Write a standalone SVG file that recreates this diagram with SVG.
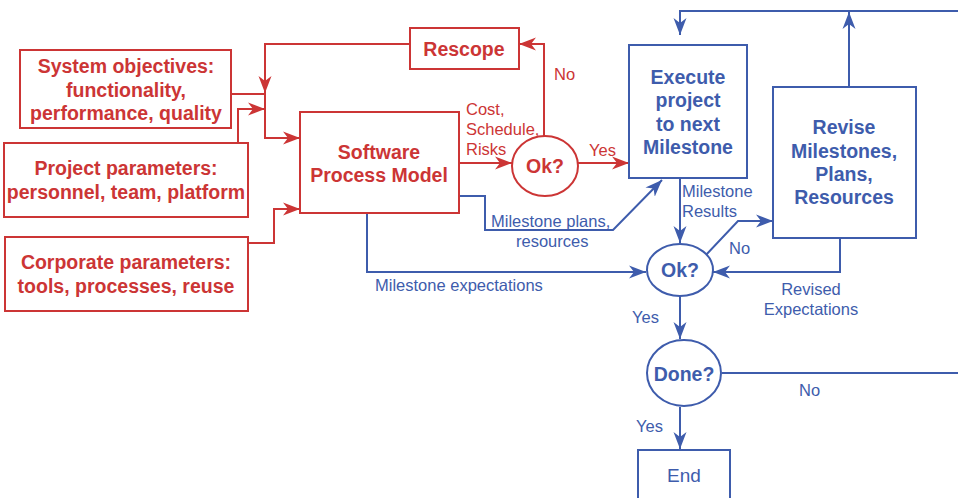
<svg xmlns="http://www.w3.org/2000/svg" width="958" height="498" viewBox="0 0 958 498">
  <style>
    .r { stroke: #cc3535; }
    .b { stroke: #3e5cac; }
    .box { fill: #ffffff; stroke-width: 2; }
    .ln { fill: none; stroke-width: 2; }
    .t { font-family: "Liberation Sans", Arial, sans-serif; text-anchor: middle; }
    .tb { font-family: "Liberation Sans", Arial, sans-serif; font-weight: bold; font-size: 19.5px; text-anchor: middle; }
    .lbl { font-family: "Liberation Sans", Arial, sans-serif; font-size: 16.5px; }
    .fr { fill: #cc3535; }
    .fb { fill: #3e5cac; }
  </style>
  <defs>
    <marker id="ar" markerUnits="userSpaceOnUse" markerWidth="18" markerHeight="14" refX="17" refY="7" orient="auto">
      <path d="M0,0.5 L17,7 L0,13.5 L5,7 Z" fill="#cc3535"/>
    </marker>
    <marker id="ab" markerUnits="userSpaceOnUse" markerWidth="18" markerHeight="14" refX="17" refY="7" orient="auto">
      <path d="M0,0.5 L17,7 L0,13.5 L5,7 Z" fill="#3e5cac"/>
    </marker>
  </defs>

  <!-- connectors -->
  <g id="connectors">
    <!-- red: inputs and scoping loop -->
    <polyline class="ln r" points="410,44 265,44 265,93" marker-end="url(#ar)"/>
    <polyline class="ln r" points="265,93 265,138 300,138" marker-end="url(#ar)"/>
    <polyline class="ln r" points="231,94 265,94"/>
    <polyline class="ln r" points="238,142 238,109 265,109" marker-end="url(#ar)"/>
    <polyline class="ln r" points="248,243 274,243 274,209 300,209" marker-end="url(#ar)"/>
    <polyline class="ln r" points="459,163 512,163" marker-end="url(#ar)"/>
    <polyline class="ln r" points="544,136 544,44 519,44" marker-end="url(#ar)"/>
    <polyline class="ln r" points="578,163 629,163" marker-end="url(#ar)"/>

    <!-- blue: execution loop -->
    <polyline class="ln b" points="459,196 485,196 485,230 613,230 662,180" marker-end="url(#ab)"/>
    <polyline class="ln b" points="367,213 367,272 646,272" marker-end="url(#ab)"/>
    <polyline class="ln b" points="680,178 680,243" marker-end="url(#ab)"/>
    <polyline class="ln b" points="705,256 738,221 773,221" marker-end="url(#ab)"/>
    <polyline class="ln b" points="840,238 840,272 713,272" marker-end="url(#ab)"/>
    <polyline class="ln b" points="849,87 849,12" marker-end="url(#ab)"/>
    <polyline class="ln b" points="958,11 680,11 680,35" marker-end="url(#ab)"/>
    <polyline class="ln b" points="680,296 680,339" marker-end="url(#ab)"/>
    <polyline class="ln b" points="722,373 958,373"/>
    <polyline class="ln b" points="680,407 680,449" marker-end="url(#ab)"/>

    <!-- connector labels -->
    <text class="lbl fr" x="466" y="115">Cost,</text>
    <text class="lbl fr" x="466" y="135">Schedule,</text>
    <text class="lbl fr" x="466" y="155">Risks</text>
    <text class="lbl fr" x="554" y="80">No</text>
    <text class="lbl fr" x="589" y="156">Yes</text>
    <text class="lbl fb" x="491" y="227">Milestone plans,</text>
    <text class="lbl fb" x="516" y="247">resources</text>
    <text class="lbl fb" x="375" y="291">Milestone expectations</text>
    <text class="lbl fb" x="682" y="197">Milestone</text>
    <text class="lbl fb" x="682" y="217">Results</text>
    <text class="lbl fb" x="729" y="254">No</text>
    <text class="lbl fb" x="811" y="295" text-anchor="middle">Revised</text>
    <text class="lbl fb" x="811" y="315" text-anchor="middle">Expectations</text>
    <text class="lbl fb" x="632" y="323">Yes</text>
    <text class="lbl fb" x="799" y="396">No</text>
    <text class="lbl fb" x="636" y="432">Yes</text>
  </g>

  <!-- nodes -->
  <g id="system-objectives">
    <rect class="box r" x="20" y="50" width="211" height="78"/>
    <text class="tb fr" x="126" y="73">System objectives:</text>
    <text class="tb fr" x="126" y="97">functionality,</text>
    <text class="tb fr" x="126" y="120">performance, quality</text>
  </g>
  <g id="project-parameters">
    <rect class="box r" x="4" y="143" width="244" height="74"/>
    <text class="tb fr" x="126" y="175">Project parameters:</text>
    <text class="tb fr" x="126" y="199">personnel, team, platform</text>
  </g>
  <g id="corporate-parameters">
    <rect class="box r" x="5" y="237" width="243" height="74"/>
    <text class="tb fr" x="126" y="269">Corporate parameters:</text>
    <text class="tb fr" x="126" y="293">tools, processes, reuse</text>
  </g>
  <g id="software-process-model">
    <rect class="box r" x="300" y="112" width="159" height="101"/>
    <text class="tb fr" x="379" y="159">Software</text>
    <text class="tb fr" x="379" y="182">Process Model</text>
  </g>
  <g id="rescope">
    <rect class="box r" x="410" y="28" width="109" height="41"/>
    <text class="tb fr" x="464" y="56">Rescope</text>
  </g>
  <g id="ok-scope">
    <ellipse class="box r" cx="545" cy="166" rx="33" ry="30"/>
    <text class="tb fr" x="545" y="173">Ok?</text>
  </g>
  <g id="execute">
    <rect class="box b" x="629" y="45" width="118" height="133"/>
    <text class="tb fb" x="688" y="84">Execute</text>
    <text class="tb fb" x="688" y="107">project</text>
    <text class="tb fb" x="688" y="131">to next</text>
    <text class="tb fb" x="688" y="154">Milestone</text>
  </g>
  <g id="revise">
    <rect class="box b" x="773" y="87" width="143" height="151"/>
    <text class="tb fb" x="844" y="134">Revise</text>
    <text class="tb fb" x="844" y="158">Milestones,</text>
    <text class="tb fb" x="844" y="181">Plans,</text>
    <text class="tb fb" x="844" y="204">Resources</text>
  </g>
  <g id="ok-milestone">
    <ellipse class="box b" cx="680" cy="270" rx="33" ry="26"/>
    <text class="tb fb" x="680" y="277">Ok?</text>
  </g>
  <g id="done">
    <ellipse class="box b" cx="684" cy="373" rx="37" ry="33"/>
    <text class="tb fb" x="684" y="381">Done?</text>
  </g>
  <g id="end">
    <rect class="box b" x="638" y="450" width="92" height="60"/>
    <text class="t fb" x="684" y="482" font-size="19">End</text>
  </g>
</svg>
